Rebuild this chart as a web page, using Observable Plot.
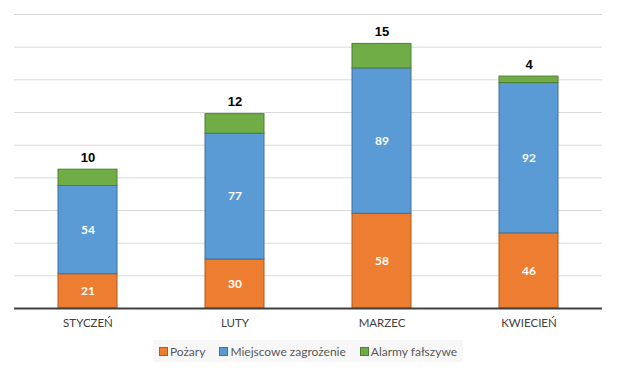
<!DOCTYPE html>
<html>
<head>
<meta charset="utf-8">
<script src="https://cdn.jsdelivr.net/npm/d3@7"></script>
<script src="https://cdn.jsdelivr.net/npm/@observablehq/plot@0.6"></script>
<style>
  html, body { margin: 0; padding: 0; background: #fff; }
  #wrap { position: relative; width: 617px; height: 370px; }
  #legend {
    position: absolute; left: 153px; top: 340px; width: 310px; height: 22px;
    background: #f7f7f7; display: flex; align-items: center; justify-content: center;
    font-family: Lato, "Open Sans", sans-serif; font-size: 12px; color: #595959; gap: 14px;
  }
  #legend .item { display: flex; align-items: center; gap: 2px; }
  #legend .sw { width: 7px; height: 7px; border: 1px solid; display: inline-block; }
</style>
</head>
<body>
<div id="wrap">
  <div id="chart"></div>
  <div id="legend"></div>
</div>
<script>
const months = ["STYCZEŃ", "LUTY", "MARZEC", "KWIECIEŃ"];
const seriesNames = ["Pożary", "Miejscowe zagrożenie", "Alarmy fałszywe"];
const pozary = [21, 30, 58, 46];
const miejscowe = [54, 77, 89, 92];
const alarmy = [10, 12, 15, 4];
const fills = ["#ED7D31", "#5B9BD5", "#70AD47"];
const strokes = ["#AE5A21", "#41719C", "#507E32"];
const gridTicks = [20, 40, 60, 80, 100, 120, 140, 160, 180];

const seriesValues = [pozary, miejscowe, alarmy];
const data = [];
seriesNames.forEach((s, si) => {
  months.forEach((m, mi) => {
    data.push({month: m, series: s, si, value: seriesValues[si][mi]});
  });
});

const chart = Plot.plot({
  width: 617,
  height: 335,
  marginLeft: 14,
  marginRight: 15,
  marginTop: 14,
  marginBottom: 27,
  style: {fontFamily: "Lato, 'Open Sans', sans-serif", background: "#fff"},
  x: {domain: months, paddingInner: 0.6, paddingOuter: 0.3, label: null, tickSize: 0, tickPadding: 10},
  y: {domain: [0, 180], axis: null},
  color: {type: "identity"},
  marks: [
    Plot.ruleY(gridTicks, {stroke: "#d9d9d9", strokeWidth: 1}),
    Plot.barY(data, Plot.stackY({
      x: "month", y: "value", z: "si", order: null,
      fill: d => fills[d.si], stroke: d => strokes[d.si], strokeWidth: 1
    })),
    Plot.text(data.filter(d => d.si < 2), Plot.stackY({
      x: "month", y: "value", z: "si", order: null,
      text: "value", fill: "white", fontWeight: "bold", fontSize: 12
    })),
    Plot.text(data.filter(d => d.si === 2), {
      x: "month",
      y: d => pozary[months.indexOf(d.month)] + miejscowe[months.indexOf(d.month)] + d.value,
      text: "value", dy: -12, fill: "black", fontWeight: "bold", fontSize: 13,
      fontFamily: "'Liberation Sans', Arial, sans-serif"
    }),
    Plot.ruleY([0], {stroke: "#404040", strokeWidth: 2}),
    Plot.axisX({tickSize: 0, tickPadding: 10, fontSize: 11.5, fill: "#404040", label: null})
  ]
});
document.getElementById("chart").appendChild(chart);

const legend = document.getElementById("legend");
seriesNames.forEach((s, i) => {
  const item = document.createElement("span");
  item.className = "item";
  const sw = document.createElement("span");
  sw.className = "sw";
  sw.style.background = fills[i];
  sw.style.borderColor = strokes[i];
  const t = document.createElement("span");
  t.textContent = s;
  item.appendChild(sw);
  item.appendChild(t);
  legend.appendChild(item);
});
</script>
</body>
</html>
